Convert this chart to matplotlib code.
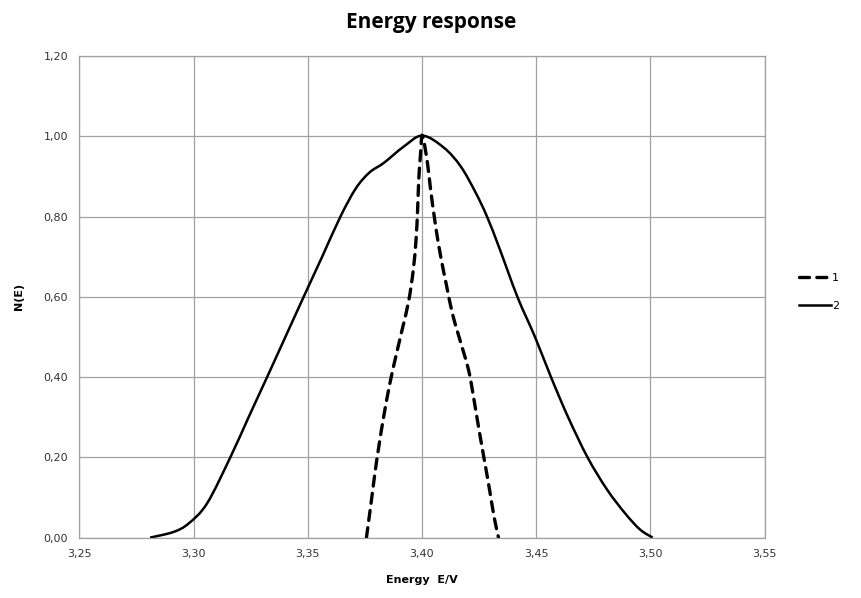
import matplotlib
matplotlib.use("Agg")
import matplotlib.pyplot as plt
import numpy as np
from matplotlib.path import Path
from matplotlib.patches import PathPatch
from matplotlib.lines import Line2D

# Series 1 (dashed)
e1 = [3.3757, 3.3777, 3.3794, 3.3812, 3.3832, 3.3858, 3.3885, 3.3914, 3.3942,
      3.3962, 3.3974, 3.3981, 3.3986, 3.3993, 3.4002, 3.4024, 3.4038, 3.4060,
      3.4082, 3.4107, 3.4133, 3.4162, 3.4204, 3.4228, 3.4250, 3.4272, 3.4294,
      3.4316, 3.4335]
n1 = [0.0, 0.085, 0.160, 0.230, 0.300, 0.380, 0.450, 0.520, 0.590,
      0.667, 0.742, 0.817, 0.892, 0.950, 1.002, 0.934, 0.867, 0.776,
      0.701, 0.630, 0.559, 0.501, 0.418, 0.343, 0.268, 0.197, 0.126,
      0.051, 0.0]

# Series 2 (solid)
e2 = [3.2810, 3.2912, 3.2978, 3.3059, 3.3161, 3.3241, 3.3322, 3.3402, 3.3482,
      3.3563, 3.3643, 3.3710, 3.3770, 3.3833, 3.3921, 3.4002, 3.4096, 3.4170,
      3.4235, 3.4285, 3.4340, 3.4418, 3.4495, 3.4565, 3.4640, 3.4725, 3.4810,
      3.4890, 3.4955, 3.5010]
n2 = [0.0, 0.014, 0.035, 0.085, 0.20, 0.30, 0.40, 0.50, 0.60,
      0.70, 0.80, 0.870, 0.910, 0.934, 0.975, 1.002, 0.972, 0.925,
      0.860, 0.800, 0.720, 0.600, 0.500, 0.400, 0.300, 0.200, 0.120,
      0.060, 0.020, 0.0]

xticks = [3.25, 3.30, 3.35, 3.40, 3.45, 3.50, 3.55]
yticks = [0.0, 0.2, 0.4, 0.6, 0.8, 1.0, 1.2]
xlabels = ["3,25", "3,30", "3,35", "3,40", "3,45", "3,50", "3,55"]
ylabels = ["0,00", "0,20", "0,40", "0,60", "0,80", "1,00", "1,20"]


def smooth_path(x, y):
    # Excel-style smoothed line: cubic Bezier segments through the data points
    p = np.column_stack([x, y])
    verts = [p[0]]
    codes = [Path.MOVETO]
    n = len(p)
    for i in range(n - 1):
        p0 = p[i - 1] if i > 0 else p[i]
        p3 = p[i + 2] if i + 2 < n else p[i + 1]
        c1 = p[i] + (p[i + 1] - p0) / 6.0
        c2 = p[i + 1] - (p3 - p[i]) / 6.0
        verts += [c1, c2, p[i + 1]]
        codes += [Path.CURVE4] * 3
    return Path(verts, codes)


fig = plt.figure(figsize=(8.62, 5.98), dpi=100)
ax = fig.add_axes([0.092, 0.101, 0.795, 0.805])

grid_col = "#a0a0a0"
ax.add_patch(PathPatch(smooth_path(e1, n1), fill=False, color="black", lw=2.4,
                       linestyle=(0, (3, 2.2)), capstyle="round"))
ax.add_patch(PathPatch(smooth_path(e2, n2), fill=False, color="black", lw=1.8))

ax.set_xlim(3.25, 3.55)
ax.set_ylim(0, 1.2)
ax.set_xticks(xticks)
ax.set_xticklabels(xlabels)
ax.set_yticks(yticks)
ax.set_yticklabels(ylabels)
ax.tick_params(length=0, labelsize=8, colors="#333333", pad=8)
ax.grid(True, color=grid_col, lw=0.9)
ax.set_axisbelow(True)
for s in ax.spines.values():
    s.set_color(grid_col)
    s.set_linewidth(0.9)

ax.set_xlabel("Energy  E/V", fontsize=8, fontweight="bold", labelpad=12)
ax.set_ylabel("N(E)", fontsize=8, fontweight="bold", labelpad=14)

fig.text(0.5, 0.962, "Energy response", ha="center", va="center",
         fontsize=15, fontweight="bold", family="Open Sans")

h1 = Line2D([], [], color="black", lw=2.4, dashes=(3, 2.2),
            dash_capstyle="round", label="1")
h2 = Line2D([], [], color="black", lw=1.8, label="2")
fig.legend(handles=[h1, h2], loc="center left", bbox_to_anchor=(0.915, 0.512),
           frameon=False, fontsize=8, handlelength=2.9, handletextpad=0.1,
           labelspacing=1.6)

plt.savefig("out.png", dpi=100)
